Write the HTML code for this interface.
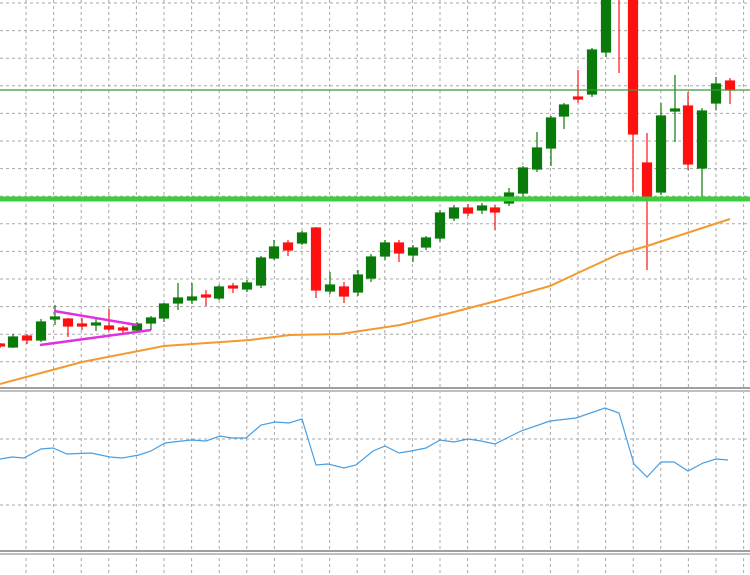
<!DOCTYPE html>
<html><head><meta charset="utf-8"><style>body{margin:0;background:#fff}svg{display:block}</style></head><body>
<svg width="750" height="575" xmlns="http://www.w3.org/2000/svg">
<g stroke="#a8a8a8" stroke-width="1" stroke-dasharray="3,3">
<line x1="26" y1="0" x2="26" y2="575"/><line x1="53.6" y1="0" x2="53.6" y2="575"/><line x1="81.2" y1="0" x2="81.2" y2="575"/><line x1="108.8" y1="0" x2="108.8" y2="575"/><line x1="136.4" y1="0" x2="136.4" y2="575"/><line x1="164" y1="0" x2="164" y2="575"/><line x1="191.6" y1="0" x2="191.6" y2="575"/><line x1="219.2" y1="0" x2="219.2" y2="575"/><line x1="246.8" y1="0" x2="246.8" y2="575"/><line x1="274.4" y1="0" x2="274.4" y2="575"/><line x1="302" y1="0" x2="302" y2="575"/><line x1="329.6" y1="0" x2="329.6" y2="575"/><line x1="357.2" y1="0" x2="357.2" y2="575"/><line x1="384.8" y1="0" x2="384.8" y2="575"/><line x1="412.4" y1="0" x2="412.4" y2="575"/><line x1="440" y1="0" x2="440" y2="575"/><line x1="467.6" y1="0" x2="467.6" y2="575"/><line x1="495.2" y1="0" x2="495.2" y2="575"/><line x1="522.8" y1="0" x2="522.8" y2="575"/><line x1="550.4" y1="0" x2="550.4" y2="575"/><line x1="578" y1="0" x2="578" y2="575"/><line x1="605.6" y1="0" x2="605.6" y2="575"/><line x1="633.2" y1="0" x2="633.2" y2="575"/><line x1="660.8" y1="0" x2="660.8" y2="575"/><line x1="688.4" y1="0" x2="688.4" y2="575"/><line x1="716" y1="0" x2="716" y2="575"/><line x1="743.6" y1="0" x2="743.6" y2="575"/>
<line x1="0" y1="3" x2="750" y2="3"/><line x1="0" y1="30.6" x2="750" y2="30.6"/><line x1="0" y1="58.2" x2="750" y2="58.2"/><line x1="0" y1="85.8" x2="750" y2="85.8"/><line x1="0" y1="113.4" x2="750" y2="113.4"/><line x1="0" y1="141" x2="750" y2="141"/><line x1="0" y1="168.6" x2="750" y2="168.6"/><line x1="0" y1="196.2" x2="750" y2="196.2"/><line x1="0" y1="223.8" x2="750" y2="223.8"/><line x1="0" y1="251.4" x2="750" y2="251.4"/><line x1="0" y1="279" x2="750" y2="279"/><line x1="0" y1="306.6" x2="750" y2="306.6"/><line x1="0" y1="334.2" x2="750" y2="334.2"/><line x1="0" y1="361.8" x2="750" y2="361.8"/>
<line x1="0" y1="439" x2="750" y2="439"/><line x1="0" y1="505" x2="750" y2="505"/>
</g>
<g stroke-width="1.2">
<g stroke="#0a7a0a" fill="#0a7a0a">
<line x1="13" y1="334" x2="13" y2="348"/><rect x="8.5" y="337" width="9" height="10"/>
<line x1="41" y1="319" x2="41" y2="342"/><rect x="36.5" y="322" width="9" height="18"/>
<line x1="55" y1="305" x2="55" y2="325"/><rect x="50.5" y="317" width="9" height="2"/>
<line x1="96" y1="318" x2="96" y2="331"/><rect x="91.5" y="323" width="9" height="2"/>
<line x1="137" y1="322" x2="137" y2="332"/><rect x="132.5" y="324" width="9" height="6"/>
<line x1="151" y1="316" x2="151" y2="330"/><rect x="146.5" y="318" width="9" height="5"/>
<line x1="164" y1="303" x2="164" y2="322"/><rect x="159.5" y="304" width="9" height="14"/>
<line x1="178" y1="283" x2="178" y2="310"/><rect x="173.5" y="298" width="9" height="5"/>
<line x1="192" y1="283" x2="192" y2="304"/><rect x="187.5" y="297" width="9" height="3"/>
<line x1="219" y1="285" x2="219" y2="300"/><rect x="214.5" y="287" width="9" height="11"/>
<line x1="247" y1="280" x2="247" y2="292"/><rect x="242.5" y="283" width="9" height="6"/>
<line x1="261" y1="256" x2="261" y2="288"/><rect x="256.5" y="258" width="9" height="27"/>
<line x1="274" y1="240" x2="274" y2="260"/><rect x="269.5" y="247" width="9" height="11"/>
<line x1="302" y1="231" x2="302" y2="245"/><rect x="297.5" y="233" width="9" height="10"/>
<line x1="330" y1="272" x2="330" y2="294"/><rect x="325.5" y="285" width="9" height="6"/>
<line x1="358" y1="270" x2="358" y2="296"/><rect x="353.5" y="275" width="9" height="17"/>
<line x1="371" y1="254" x2="371" y2="282"/><rect x="366.5" y="257" width="9" height="21"/>
<line x1="385" y1="240" x2="385" y2="260"/><rect x="380.5" y="243" width="9" height="13"/>
<line x1="413" y1="245" x2="413" y2="262"/><rect x="408.5" y="248" width="9" height="7"/>
<line x1="426" y1="236" x2="426" y2="250"/><rect x="421.5" y="238" width="9" height="9"/>
<line x1="440" y1="210" x2="440" y2="242"/><rect x="435.5" y="213" width="9" height="25"/>
<line x1="454" y1="205" x2="454" y2="221"/><rect x="449.5" y="208" width="9" height="10"/>
<line x1="482" y1="203" x2="482" y2="214"/><rect x="477.5" y="206" width="9" height="4"/>
<line x1="509" y1="188" x2="509" y2="206"/><rect x="504.5" y="193" width="9" height="10"/>
<line x1="523" y1="166" x2="523" y2="196"/><rect x="518.5" y="168" width="9" height="25"/>
<line x1="537" y1="132" x2="537" y2="172"/><rect x="532.5" y="148" width="9" height="21"/>
<line x1="551" y1="116" x2="551" y2="166"/><rect x="546.5" y="118" width="9" height="30"/>
<line x1="564" y1="103" x2="564" y2="129"/><rect x="559.5" y="105" width="9" height="11"/>
<line x1="592" y1="48" x2="592" y2="97"/><rect x="587.5" y="50" width="9" height="44"/>
<line x1="606" y1="0" x2="606" y2="57"/><rect x="601.5" y="0" width="9" height="52"/>
<line x1="661" y1="103" x2="661" y2="195"/><rect x="656.5" y="116" width="9" height="76"/>
<line x1="675" y1="75" x2="675" y2="142"/><rect x="670.5" y="109" width="9" height="2"/>
<line x1="702" y1="108" x2="702" y2="197"/><rect x="697.5" y="111" width="9" height="57"/>
<line x1="716" y1="77" x2="716" y2="110"/><rect x="711.5" y="84" width="9" height="19"/>
</g>
<g stroke="#ff1010" fill="#ff1010">
<line x1="0" y1="343" x2="0" y2="348"/><rect x="-4.5" y="344" width="9" height="2"/>
<line x1="27" y1="334" x2="27" y2="344"/><rect x="22.5" y="336" width="9" height="4"/>
<line x1="68" y1="318" x2="68" y2="337"/><rect x="63.5" y="319" width="9" height="7"/>
<line x1="82" y1="318" x2="82" y2="330"/><rect x="77.5" y="324" width="9" height="2"/>
<line x1="109" y1="309" x2="109" y2="331"/><rect x="104.5" y="326" width="9" height="3"/>
<line x1="123" y1="326" x2="123" y2="333"/><rect x="118.5" y="328" width="9" height="2"/>
<line x1="206" y1="290" x2="206" y2="306"/><rect x="201.5" y="295" width="9" height="2"/>
<line x1="233" y1="283" x2="233" y2="293"/><rect x="228.5" y="286" width="9" height="2"/>
<line x1="288" y1="240" x2="288" y2="256"/><rect x="283.5" y="243" width="9" height="7"/>
<line x1="316" y1="227" x2="316" y2="298"/><rect x="311.5" y="228" width="9" height="62"/>
<line x1="344" y1="282" x2="344" y2="303"/><rect x="339.5" y="287" width="9" height="9"/>
<line x1="399" y1="240" x2="399" y2="262"/><rect x="394.5" y="243" width="9" height="10"/>
<line x1="468" y1="204" x2="468" y2="216"/><rect x="463.5" y="208" width="9" height="5"/>
<line x1="495" y1="205" x2="495" y2="230"/><rect x="490.5" y="208" width="9" height="4"/>
<line x1="578" y1="70" x2="578" y2="103"/><rect x="573.5" y="97" width="9" height="2"/>
<line x1="619" y1="0" x2="619" y2="73"/>
<line x1="633" y1="0" x2="633" y2="192"/><rect x="628.5" y="0" width="9" height="134"/>
<line x1="647" y1="133" x2="647" y2="270"/><rect x="642.5" y="163" width="9" height="34"/>
<line x1="688" y1="92" x2="688" y2="170"/><rect x="683.5" y="106" width="9" height="58"/>
<line x1="730" y1="78" x2="730" y2="104"/><rect x="725.5" y="81" width="9" height="9"/>
</g>
</g>
<line x1="0" y1="90" x2="750" y2="90" stroke="#3a9a3a" stroke-width="1.2"/>
<line x1="0" y1="199" x2="750" y2="199" stroke="#3ccf3c" stroke-width="5"/>
<polyline fill="none" stroke="#f29a30" stroke-width="2" points="0,384 82,362 164,346 250,340 290,335 340,334 400,325 450,313 500,300 550,286 580,272 619,254 647,246 690,232 730,219"/>
<line x1="54" y1="311" x2="137" y2="325" stroke="#e030e0" stroke-width="2.5"/>
<line x1="40" y1="345" x2="151" y2="330" stroke="#e030e0" stroke-width="2.5"/>
<rect x="0" y="387" width="750" height="5" fill="#fff"/>
<line x1="0" y1="388" x2="750" y2="388" stroke="#666" stroke-width="1.2"/>
<line x1="0" y1="391" x2="750" y2="391" stroke="#999" stroke-width="1.2"/>
<rect x="0" y="550" width="750" height="5" fill="#fff"/>
<line x1="0" y1="551" x2="750" y2="551" stroke="#666" stroke-width="1.2"/>
<line x1="0" y1="554" x2="750" y2="554" stroke="#999" stroke-width="1.2"/>
<polyline fill="none" stroke="#4a9ee0" stroke-width="1.2" points="0,459 12,457 24,458 41,449 53,448 67,454 91,453 110,457 122,458 139,455 151,451 165,443 182,441 191,440 206,441 220,436 232,438 246,438 261,425 275,422 289,423 302,419 316,465 328,464 344,468 356,465 373,451 385,446 399,453 411,451 426,448 440,440 454,442 468,439 481,441 495,444 521,431 550,421 576,418 605,408 619,413 634,464 647,477 661,462 674,462 688,471 703,463 716,459 728,460"/>
</svg>
</body></html>
